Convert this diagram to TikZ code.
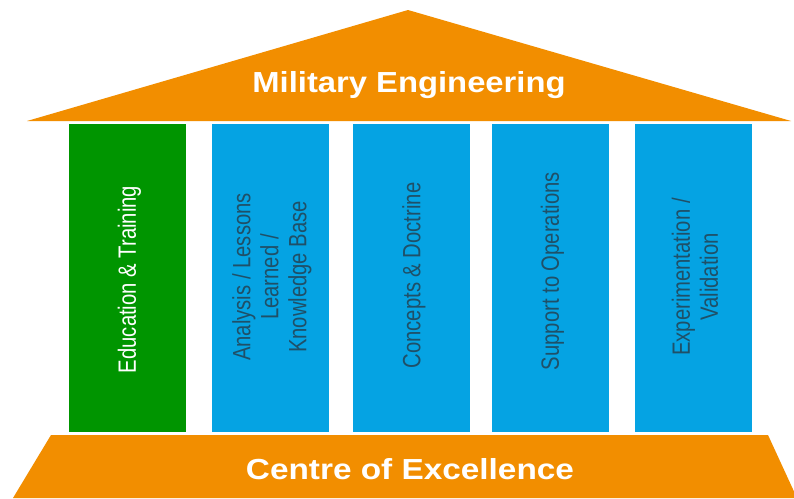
\documentclass[tikz,border=0pt]{standalone}
\usepackage{fontspec}
\setmainfont{Liberation Sans}
\definecolor{roof}{HTML}{F28E00}
\definecolor{pblue}{HTML}{05A3E3}
\definecolor{pgreen}{HTML}{009500}
\definecolor{dtext}{HTML}{1F5068}
\tikzset{
 px/.style={x=1pt,y=-1pt},
 pillar/.style={draw=none,minimum width=117pt,minimum height=308pt,inner sep=0pt},
 lab/.style={rotate=90,align=center,font=\fontsize{25}{28}\selectfont,xscale=0.81},
 band/.style={font=\bfseries\fontsize{29}{32}\selectfont,text=white}
}
\begin{document}
\begin{tikzpicture}[px]
\useasboundingbox (0,0) rectangle (794,498);
\fill[white] (0,0) rectangle (794,498);
\fill[roof] (27,121) -- (408,10) -- (791,121) -- cycle;
\fill[roof] (51,435) -- (768,435) -- (797,498) -- (13,498) -- cycle;
\node[band,xscale=1.13] (title) at (409,85) {Military Engineering};
\node[band,xscale=1.15] (base) at (410,469) {Centre of Excellence};
\node[pillar,fill=pgreen] (p1) at (127,278) {};
\node[pillar,fill=pblue] (p2) at (270,278) {};
\node[pillar,fill=pblue] (p3) at (411,278) {};
\node[pillar,fill=pblue] (p4) at (550,278) {};
\node[pillar,fill=pblue] (p5) at (693,278) {};
\node[lab,text=white] (t1) at (129.5,279.5) {Education \& Training};
\node[lab,text=dtext] (t2) at (272,277) {Analysis / Lessons\\Learned /\\Knowledge Base};
\node[lab,text=dtext] (t3) at (414,275.5) {Concepts \& Doctrine};
\node[lab,text=dtext] (t4) at (552.5,271) {Support to Operations};
\node[lab,text=dtext] (t5) at (695,277) {Experimentation /\\Validation};
\end{tikzpicture}
\end{document}
